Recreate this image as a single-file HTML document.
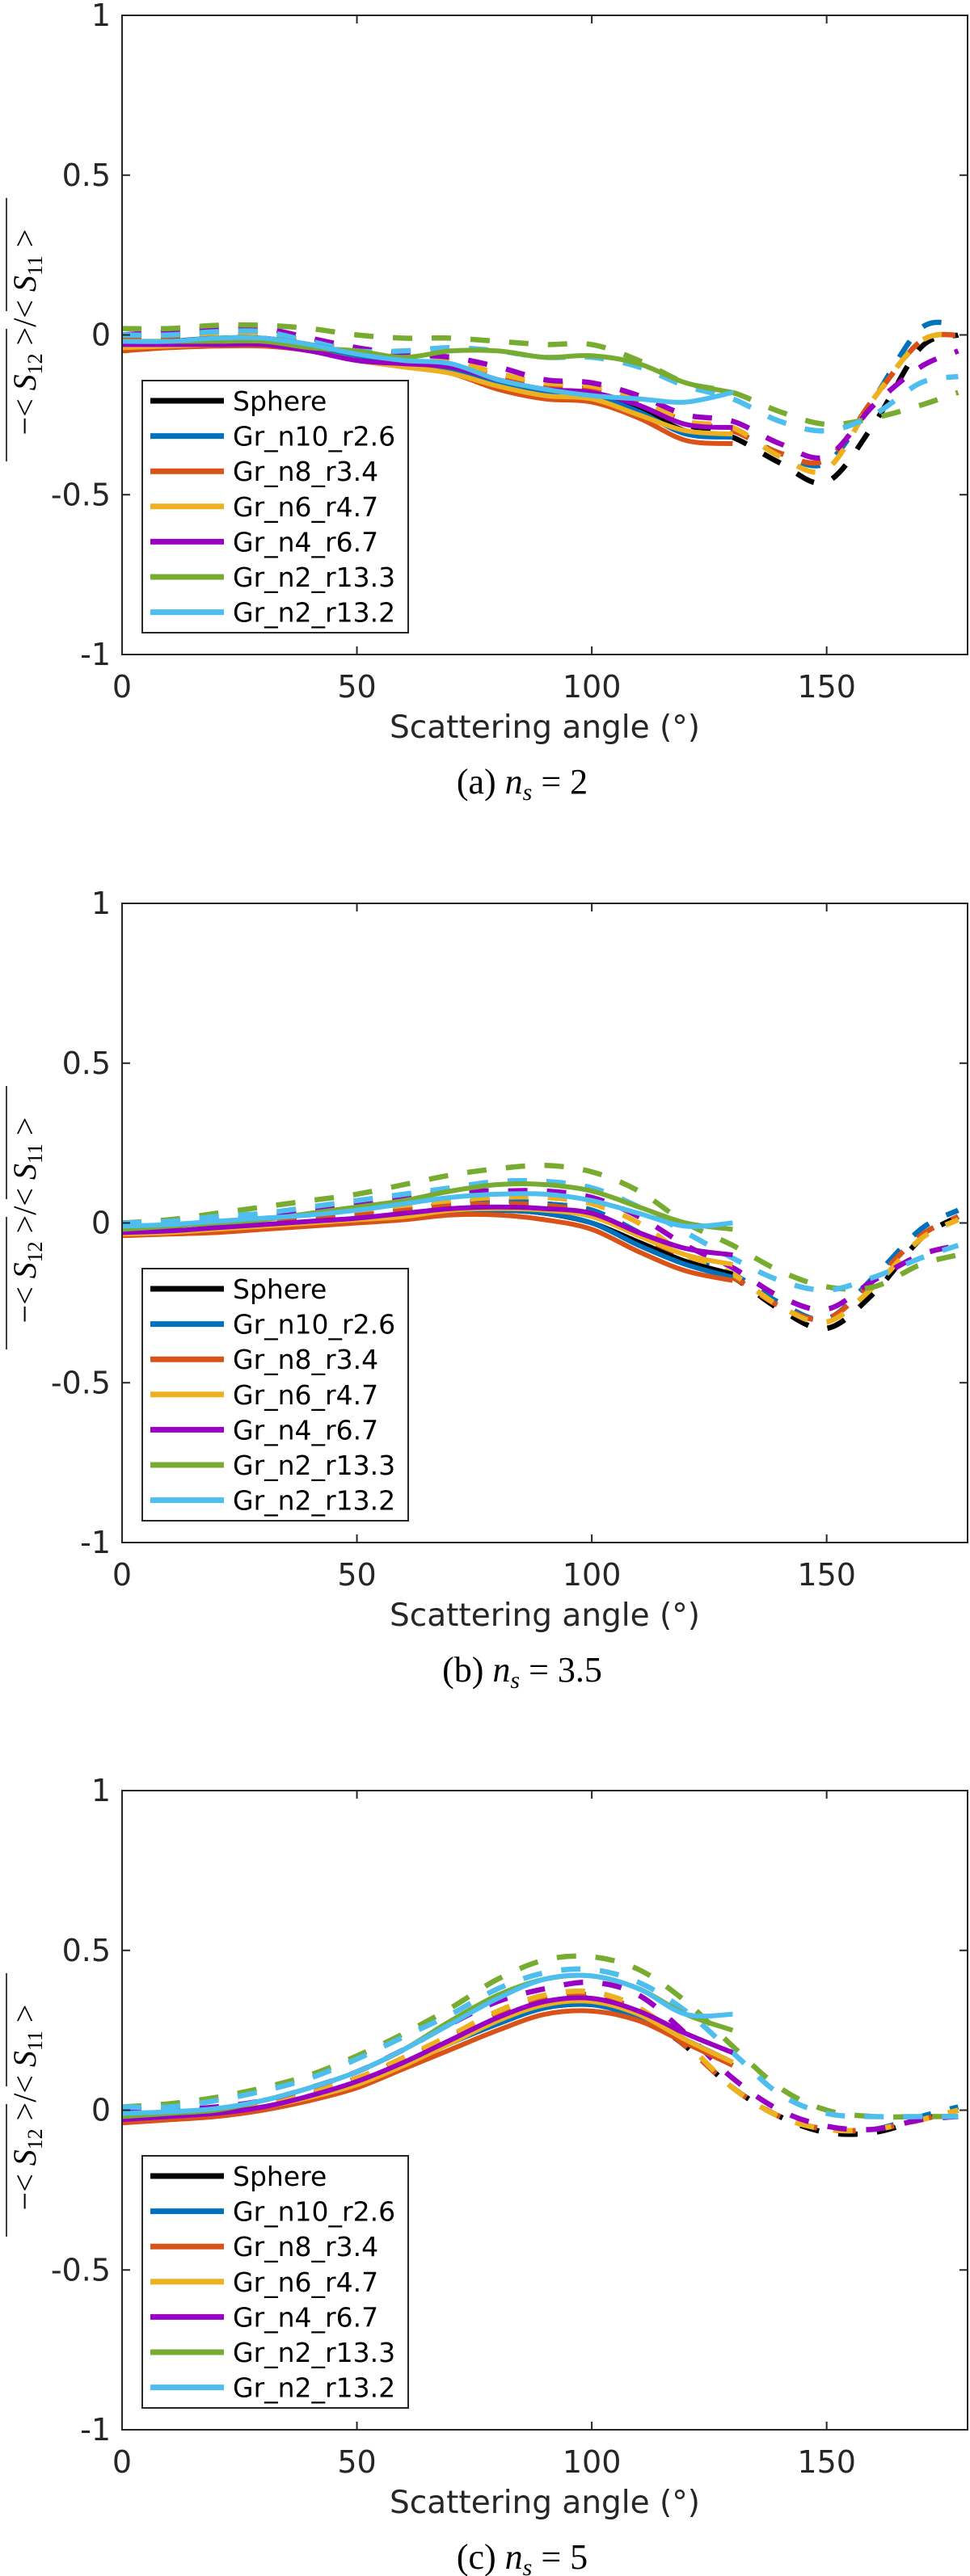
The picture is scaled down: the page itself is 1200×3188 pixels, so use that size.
<!DOCTYPE html>
<html><head><meta charset="utf-8"><style>
html,body{margin:0;padding:0;background:#fff;}
svg{display:block;}
</style></head><body>
<svg id="fig" width="1200" height="3188" viewBox="0 0 1200 3188" xmlns="http://www.w3.org/2000/svg"></svg>
<script>
// ---- data ----
const seriesNames = ["Sphere","Gr_n10_r2.6","Gr_n8_r3.4","Gr_n6_r4.7","Gr_n4_r6.7","Gr_n2_r13.3","Gr_n2_r13.2"];
const xSolid = [0,10,20,30,40,50,60,70,80,90,100,110,120,130];
const xDashed = [0,10,20,30,40,50,60,70,80,90,100,110,120,130,140,150,160,170,178];
const xTicks = [0,50,100,150];
const yTicks = [-1,-0.5,0,0.5,1];
const yTickLabels = ["-1","-0.5","0","0.5","1"];
const captions = ["n_s = 2","n_s = 3.5","n_s = 5"];
const captionLetters = ["(a)","(b)","(c)"];

// panel a (n_s = 2)
const aSolid = [
 [-0.03,-0.02,-0.01,-0.01,-0.03,-0.06,-0.08,-0.10,-0.14,-0.18,-0.19,-0.23,-0.30,-0.32],
 [-0.03,-0.025,-0.02,-0.02,-0.04,-0.07,-0.09,-0.11,-0.15,-0.18,-0.19,-0.24,-0.31,-0.32],
 [-0.05,-0.04,-0.035,-0.035,-0.05,-0.08,-0.10,-0.12,-0.17,-0.20,-0.21,-0.26,-0.33,-0.34],
 [-0.04,-0.035,-0.03,-0.03,-0.05,-0.08,-0.10,-0.12,-0.16,-0.19,-0.20,-0.25,-0.30,-0.31],
 [-0.03,-0.03,-0.03,-0.03,-0.05,-0.08,-0.09,-0.10,-0.14,-0.17,-0.18,-0.22,-0.28,-0.29],
 [-0.02,-0.02,-0.02,-0.02,-0.04,-0.05,-0.07,-0.05,-0.05,-0.07,-0.065,-0.09,-0.15,-0.18],
 [-0.02,-0.02,-0.01,-0.01,-0.03,-0.06,-0.08,-0.09,-0.14,-0.17,-0.19,-0.20,-0.21,-0.18]
];
const aDashed = [
 [0.0,-0.005,0.0,0.0,-0.03,-0.06,-0.08,-0.10,-0.14,-0.17,-0.17,-0.22,-0.28,-0.32,-0.40,-0.46,-0.28,-0.04,0.0],
 [0.0,0.0,0.01,0.0,-0.03,-0.06,-0.08,-0.09,-0.13,-0.16,-0.17,-0.21,-0.27,-0.30,-0.37,-0.40,-0.20,0.02,0.03],
 [-0.01,-0.005,0.0,0.0,-0.03,-0.06,-0.08,-0.09,-0.13,-0.16,-0.17,-0.21,-0.27,-0.30,-0.37,-0.39,-0.20,-0.02,0.0],
 [0.0,0.0,0.005,0.005,-0.02,-0.05,-0.07,-0.08,-0.12,-0.15,-0.16,-0.20,-0.27,-0.29,-0.38,-0.42,-0.20,-0.02,0.0],
 [0.0,0.01,0.02,0.02,-0.01,-0.04,-0.06,-0.07,-0.10,-0.14,-0.15,-0.19,-0.25,-0.27,-0.34,-0.38,-0.22,-0.10,-0.05],
 [0.02,0.02,0.03,0.03,0.02,0.0,-0.01,-0.01,-0.02,-0.03,-0.03,-0.08,-0.15,-0.18,-0.24,-0.28,-0.26,-0.22,-0.18],
 [0.0,0.0,0.01,0.01,-0.02,-0.05,-0.05,-0.04,-0.05,-0.07,-0.07,-0.10,-0.16,-0.20,-0.27,-0.30,-0.25,-0.15,-0.13]
];
// panel b (n_s = 3.5)
const bSolid = [
 [-0.03,-0.03,-0.02,-0.01,0.0,0.01,0.02,0.035,0.04,0.03,0.0,-0.06,-0.12,-0.16],
 [-0.03,-0.03,-0.02,-0.01,0.0,0.01,0.02,0.035,0.04,0.03,0.0,-0.07,-0.13,-0.17],
 [-0.04,-0.035,-0.03,-0.02,-0.01,0.0,0.01,0.025,0.025,0.01,-0.02,-0.09,-0.15,-0.18],
 [-0.035,-0.03,-0.02,-0.01,0.0,0.01,0.02,0.04,0.045,0.04,0.02,-0.04,-0.10,-0.13],
 [-0.03,-0.025,-0.015,-0.005,0.005,0.015,0.03,0.045,0.05,0.045,0.03,-0.03,-0.08,-0.10],
 [-0.02,-0.01,0.0,0.01,0.03,0.05,0.07,0.10,0.12,0.12,0.10,0.05,0.0,-0.02],
 [-0.01,-0.005,0.005,0.015,0.025,0.04,0.06,0.08,0.09,0.09,0.07,0.03,-0.01,0.0]
];
const bDashed = [
 [-0.01,-0.01,0.0,0.01,0.02,0.03,0.04,0.06,0.07,0.06,0.04,-0.03,-0.11,-0.17,-0.27,-0.33,-0.22,-0.05,0.02],
 [-0.01,-0.005,0.005,0.015,0.025,0.035,0.045,0.06,0.07,0.06,0.04,-0.03,-0.11,-0.16,-0.25,-0.30,-0.17,-0.02,0.04],
 [-0.01,-0.01,0.0,0.01,0.02,0.03,0.04,0.055,0.06,0.055,0.03,-0.04,-0.12,-0.17,-0.26,-0.30,-0.18,-0.04,0.02],
 [0.0,0.0,0.01,0.02,0.03,0.04,0.055,0.07,0.08,0.08,0.06,0.0,-0.10,-0.16,-0.26,-0.31,-0.20,-0.05,0.01],
 [0.0,0.0,0.01,0.02,0.04,0.06,0.08,0.10,0.10,0.10,0.08,0.02,-0.07,-0.14,-0.23,-0.27,-0.18,-0.10,-0.07],
 [0.0,0.01,0.03,0.05,0.07,0.09,0.12,0.15,0.17,0.18,0.16,0.10,0.0,-0.07,-0.15,-0.20,-0.20,-0.13,-0.10],
 [0.0,0.005,0.02,0.03,0.05,0.07,0.09,0.11,0.13,0.13,0.11,0.05,-0.03,-0.11,-0.18,-0.21,-0.17,-0.11,-0.07]
];
// panel c (n_s = 5)
const cSolid = [
 [-0.03,-0.02,-0.01,0.01,0.04,0.08,0.14,0.21,0.27,0.32,0.33,0.30,0.22,0.14],
 [-0.03,-0.02,-0.01,0.01,0.04,0.08,0.14,0.21,0.27,0.32,0.33,0.29,0.22,0.15],
 [-0.04,-0.03,-0.02,0.0,0.03,0.07,0.13,0.19,0.25,0.30,0.31,0.28,0.21,0.14],
 [-0.03,-0.02,-0.01,0.01,0.04,0.08,0.14,0.21,0.28,0.33,0.34,0.30,0.22,0.15],
 [-0.03,-0.02,-0.01,0.01,0.045,0.09,0.15,0.22,0.29,0.34,0.35,0.31,0.24,0.18],
 [-0.02,-0.01,0.0,0.03,0.07,0.12,0.19,0.28,0.36,0.41,0.42,0.38,0.30,0.25],
 [-0.01,-0.005,0.005,0.03,0.07,0.12,0.19,0.27,0.35,0.41,0.42,0.38,0.30,0.30]
];
const cDashed = [
 [-0.01,-0.01,0.0,0.02,0.05,0.10,0.16,0.23,0.30,0.34,0.35,0.30,0.20,0.07,-0.02,-0.07,-0.07,-0.03,0.0],
 [-0.01,-0.01,0.0,0.02,0.05,0.10,0.16,0.23,0.30,0.35,0.36,0.31,0.20,0.07,-0.02,-0.06,-0.06,-0.02,0.01],
 [-0.01,-0.01,0.0,0.02,0.05,0.10,0.16,0.23,0.30,0.35,0.36,0.31,0.20,0.07,-0.02,-0.06,-0.06,-0.03,0.0],
 [-0.01,-0.005,0.005,0.025,0.055,0.10,0.165,0.235,0.31,0.36,0.37,0.32,0.21,0.07,-0.02,-0.06,-0.06,-0.03,0.0],
 [0.0,0.0,0.01,0.03,0.07,0.12,0.19,0.27,0.34,0.38,0.40,0.36,0.24,0.10,0.0,-0.05,-0.06,-0.03,-0.02],
 [0.01,0.02,0.04,0.07,0.11,0.17,0.24,0.32,0.41,0.47,0.48,0.44,0.34,0.20,0.07,0.0,-0.02,-0.02,-0.02],
 [0.01,0.01,0.03,0.06,0.10,0.16,0.23,0.30,0.38,0.43,0.44,0.40,0.31,0.18,0.05,-0.01,-0.02,-0.02,-0.02]
];

const colors = ["#000000","#0072BD","#D95319","#EDB120","#9A00C4","#77AC30","#4DBEEE"];
const panels = [
  {top:19, solid:aSolid, dashed:aDashed},
  {top:1118, solid:bSolid, dashed:bDashed},
  {top:2216, solid:cSolid, dashed:cDashed}
];
const L = 151, R = 1197, H = 791;
const NS = "http://www.w3.org/2000/svg";
const svg = document.getElementById('fig');
function mk(tag, attrs, parent){
  const e = document.createElementNS(NS, tag);
  for (const k in attrs) e.setAttribute(k, attrs[k]);
  (parent||svg).appendChild(e);
  return e;
}
function smoothPath(pts){
  let d = "M" + pts[0][0].toFixed(1) + "," + pts[0][1].toFixed(1);
  for (let i=0;i<pts.length-1;i++){
    const p0 = pts[Math.max(0,i-1)], p1 = pts[i], p2 = pts[i+1], p3 = pts[Math.min(pts.length-1,i+2)];
    const c1x = p1[0]+(p2[0]-p0[0])/6, c1y = p1[1]+(p2[1]-p0[1])/6;
    const c2x = p2[0]-(p3[0]-p1[0])/6, c2y = p2[1]-(p3[1]-p1[1])/6;
    d += " C"+c1x.toFixed(1)+","+c1y.toFixed(1)+" "+c2x.toFixed(1)+","+c2y.toFixed(1)+" "+p2[0].toFixed(1)+","+p2[1].toFixed(1);
  }
  return d;
}

panels.forEach((p, pi) => {
  const T = p.top, B = T + H;
  const xs = v => L + (v/180)*(R-L);
  const ys = v => T + (1 - v)/2 * H;
  const g = mk('g', {});
  
  
  const cp = mk('clipPath', {id:'clip'+pi}, g);
  mk('rect', {x:L, y:T, width:R-L, height:H}, cp);
  const lines = mk('g', {'clip-path':'url(#clip'+pi+')'}, g);
  
  
  for (let s=0;s<7;s++){
    const pts = xDashed.map((x,i)=>[xs(x), ys(p.dashed[s][i])]);
    const path = mk('path', {d:smoothPath(pts), fill:'none', stroke:colors[s], 'stroke-width':6.5, 'stroke-dasharray':'24 24'}, lines);
    
    
  }
  for (let s=0;s<7;s++){
    const pts = xSolid.map((x,i)=>[xs(x), ys(p.solid[s][i])]);
    const path = mk('path', {d:smoothPath(pts), fill:'none', stroke:colors[s], 'stroke-width':6, 'stroke-linejoin':'round'}, lines);
    
    
  }
  const box = mk('rect', {x:L, y:T, width:R-L, height:H, fill:'none', stroke:'#262626', 'stroke-width':2}, g);
  
  
  xTicks.forEach(v => {
    mk('line', {x1:xs(v), x2:xs(v), y1:B, y2:B-10, stroke:'#262626', 'stroke-width':2}, g);
    mk('line', {x1:xs(v), x2:xs(v), y1:T, y2:T+10, stroke:'#262626', 'stroke-width':2}, g);
    const t = mk('text', {x:xs(v), y:B+53, 'text-anchor':'middle', 'font-family':'DejaVu Sans, Liberation Sans, sans-serif', 'font-size':38, fill:'#262626'}, g);
    t.textContent = v;
    
    
  });
  yTicks.forEach((v,i) => {
    mk('line', {x1:L, x2:L+10, y1:ys(v), y2:ys(v), stroke:'#262626', 'stroke-width':2}, g);
    mk('line', {x1:R, x2:R-10, y1:ys(v), y2:ys(v), stroke:'#262626', 'stroke-width':2}, g);
    const t = mk('text', {x:137, y:ys(v)+13, 'text-anchor':'end', 'font-family':'DejaVu Sans, Liberation Sans, sans-serif', 'font-size':38, fill:'#262626'}, g);
    t.textContent = yTickLabels[i];
    
    
  });
  const xl = mk('text', {x:(L+R)/2, y:B+103, 'text-anchor':'middle', 'font-family':'DejaVu Sans, Liberation Sans, sans-serif', 'font-size':39, fill:'#262626'}, g);
  xl.textContent = 'Scattering angle (°)';
  
  
  const yl = mk('text', {x:0, y:0, transform:'translate(44,'+(T+392)+') rotate(-90)', 'text-anchor':'middle', 'font-family':'Liberation Serif, serif', 'font-size':40, fill:'#000'}, g);
  
  
  yl.innerHTML = '−&lt; <tspan font-style="italic">S</tspan><tspan font-size="26" dy="8">12</tspan><tspan dy="-8"> &gt;/&lt; </tspan><tspan font-style="italic">S</tspan><tspan font-size="26" dy="8">11</tspan><tspan dy="-8"> &gt;</tspan>';
  mk('line', {x1:8, x2:8, y1:T+388, y2:T+552, stroke:'#000', 'stroke-width':1.5}, g);
  mk('line', {x1:8, x2:8, y1:T+226, y2:T+366, stroke:'#000', 'stroke-width':1.5}, g);
  const lg = mk('g', {}, g);
  
  
  mk('rect', {x:176, y:T+452, width:329, height:312, fill:'#fff', stroke:'#262626', 'stroke-width':2}, lg);
  seriesNames.forEach((n, i) => {
    const cy = T + 477 + i*43.6;
    const e = mk('g', {}, lg);
    
    
    mk('line', {x1:186, x2:277, y1:cy, y2:cy, stroke:colors[i], 'stroke-width':7}, e);
    const t = mk('text', {x:288, y:cy+12, 'font-family':'DejaVu Sans, Liberation Sans, sans-serif', 'font-size':33, fill:'#000'}, e);
    t.textContent = n;
  });
  const cap = mk('text', {x:646, y:B+172, 'text-anchor':'middle', 'font-family':'Liberation Serif, serif', 'font-size':44, fill:'#000'}, g);
  
  
  const parts = captions[pi].split(' = ');
  cap.innerHTML = captionLetters[pi] + '  <tspan font-style="italic">n</tspan><tspan font-style="italic" font-size="30" dy="8">s</tspan><tspan dy="-8"> = ' + parts[1] + '</tspan>';
});
</script>
</body></html>
